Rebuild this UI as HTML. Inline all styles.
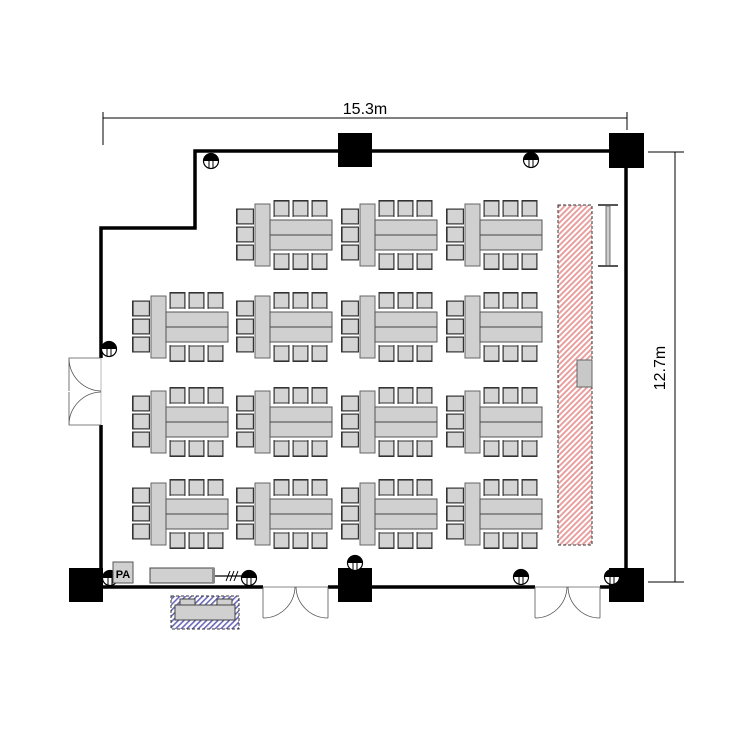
<!DOCTYPE html>
<html><head><meta charset="utf-8"><style>html,body{margin:0;padding:0;background:#fff}svg{display:block}</style></head>
<body>
<svg width="750" height="750" viewBox="0 0 750 750" xmlns="http://www.w3.org/2000/svg">
<defs>
<pattern id="red" width="4" height="4" patternUnits="userSpaceOnUse" patternTransform="rotate(45)"><rect width="4" height="4" fill="#fff"/><rect width="2" height="4" fill="#e8a0a0"/></pattern>
<pattern id="blue" width="4" height="4" patternUnits="userSpaceOnUse" patternTransform="rotate(45)"><rect width="4" height="4" fill="#fff"/><rect width="1.6" height="4" fill="#6a6ab8"/></pattern>
<g id="ct"><rect x="0.5" y="1" width="14" height="15" fill="#d4d4d4" stroke="#777" stroke-width="0.7"/><rect x="0" y="0" width="15" height="1.6" fill="#333"/><line x1="0" y1="0" x2="0" y2="17" stroke="#333" stroke-width="1"/><line x1="15" y1="0" x2="15" y2="17" stroke="#333" stroke-width="1"/><rect x="0" y="15.5" width="15" height="1" fill="#333"/></g>
<g id="cl"><rect x="1" y="0.5" width="16" height="14" fill="#d4d4d4" stroke="#777" stroke-width="0.7"/><rect x="0" y="0" width="1.6" height="15" fill="#333"/><line x1="0" y1="0" x2="18" y2="0" stroke="#333" stroke-width="1"/><line x1="0" y1="15" x2="18" y2="15" stroke="#333" stroke-width="1"/><rect x="17" y="0" width="1" height="15" fill="#333"/></g>
<g id="grp">
<use href="#cl" x="0" y="9"/><use href="#cl" x="0" y="27"/><use href="#cl" x="0" y="45"/>
<rect x="19" y="4" width="15" height="62" fill="#d0d0d0" stroke="#666"/>
<rect x="34" y="20" width="62" height="30" fill="#d0d0d0" stroke="#555"/>
<line x1="34" y1="35" x2="96" y2="35" stroke="#444"/>
<use href="#ct" x="38" y="0"/><use href="#ct" x="57" y="0"/><use href="#ct" x="76" y="0"/>
<use href="#ct" x="38" y="-70" transform="scale(1,-1)"/><use href="#ct" x="57" y="-70" transform="scale(1,-1)"/><use href="#ct" x="76" y="-70" transform="scale(1,-1)"/>
</g>
<g id="lt"><circle cx="0" cy="0" r="7.5" fill="#fff" stroke="#000" stroke-width="1.2"/><path d="M-7.5 0 A7.5 7.5 0 0 1 7.5 0 Z" fill="#000"/><line x1="-2" y1="-1" x2="-2" y2="7" stroke="#000"/><line x1="2" y1="-1" x2="2" y2="7" stroke="#000"/></g>
</defs>

<line x1="103" y1="118" x2="627" y2="118" stroke="#000" stroke-width="1"/>
<line x1="103" y1="112" x2="103" y2="145" stroke="#000"/>
<line x1="627" y1="112" x2="627" y2="130" stroke="#000"/>
<text x="365" y="114" font-family="Liberation Sans, sans-serif" font-size="16" text-anchor="middle">15.3m</text>
<line x1="675" y1="152" x2="675" y2="582" stroke="#000"/>
<line x1="648" y1="152" x2="684" y2="152" stroke="#000"/>
<line x1="648" y1="582" x2="684" y2="582" stroke="#000"/>
<text transform="translate(665,368) rotate(-90)" font-family="Liberation Sans, sans-serif" font-size="16" text-anchor="middle">12.7m</text>

<path d="M338 151 H195 V228 H101 V358" fill="none" stroke="#000" stroke-width="3.5"/>
<path d="M372 151 H610" fill="none" stroke="#000" stroke-width="3.5"/>
<path d="M101 425 V587 H263 M328 587 H535 M600 587 H626 V152" fill="none" stroke="#000" stroke-width="3.5"/>
<line x1="101" y1="358" x2="101" y2="425" stroke="#bbb" stroke-width="1"/>
<line x1="263" y1="587" x2="328" y2="587" stroke="#888" stroke-width="1"/>
<line x1="535" y1="587" x2="600" y2="587" stroke="#888" stroke-width="1"/>
<rect x="338" y="133" width="34" height="34" fill="#000"/>
<rect x="609" y="133" width="35" height="35" fill="#000"/>
<rect x="69" y="568" width="34" height="34" fill="#000"/>
<rect x="338" y="568" width="34" height="34" fill="#000"/>
<rect x="609" y="568" width="35" height="34" fill="#000"/>

<g fill="none" stroke="#555" stroke-width="0.8">
<path d="M101 358 H69 V391 M69 358 A33 33 0 0 0 101 391"/>
<path d="M101 425 H69 V392 M69 425 A33 33 0 0 1 101 392"/>
<path d="M263 587 V618 M263 618 A32 32 0 0 0 295 587 M328 587 V618 M328 618 A32 32 0 0 1 296 587"/>
<path d="M535 587 V618 M535 618 A32 32 0 0 0 567 587 M600 587 V618 M600 618 A32 32 0 0 1 568 587"/>
</g>

<use href="#grp" x="236" y="200"/><use href="#grp" x="341" y="200"/><use href="#grp" x="446" y="200"/>
<use href="#grp" x="132" y="292"/><use href="#grp" x="236" y="292"/><use href="#grp" x="341" y="292"/><use href="#grp" x="446" y="292"/>
<use href="#grp" x="132" y="387"/><use href="#grp" x="236" y="387"/><use href="#grp" x="341" y="387"/><use href="#grp" x="446" y="387"/>
<use href="#grp" x="132" y="479"/><use href="#grp" x="236" y="479"/><use href="#grp" x="341" y="479"/><use href="#grp" x="446" y="479"/>

<rect x="558" y="205" width="34" height="340" fill="url(#red)" stroke="#333" stroke-dasharray="3,2"/>
<rect x="577" y="360" width="15" height="27" fill="#c8c8c8" stroke="#666"/>
<rect x="606" y="206" width="4" height="60" fill="#ccc" stroke="#555" stroke-width="0.8"/>
<rect x="598" y="204" width="20" height="2" fill="#555"/>
<rect x="598" y="265" width="20" height="2" fill="#555"/>

<use href="#lt" x="211" y="161"/><use href="#lt" x="531" y="160"/><use href="#lt" x="109" y="349"/>
<use href="#lt" x="110" y="578"/><use href="#lt" x="249" y="578"/><use href="#lt" x="355" y="563"/>
<use href="#lt" x="521" y="577"/><use href="#lt" x="612" y="577"/>

<rect x="113" y="562" width="20" height="21" fill="#d0d0d0" stroke="#555"/>
<text x="123" y="578" font-family="Liberation Sans, sans-serif" font-size="11" font-weight="bold" text-anchor="middle">PA</text>
<rect x="150" y="568" width="64" height="15" fill="#d0d0d0" stroke="#444"/>
<rect x="212" y="568" width="3" height="15" fill="#888"/>
<line x1="215" y1="576" x2="243" y2="576" stroke="#000" stroke-width="1.2"/>
<path d="M226 581 L230 571 M230 581 L234 571 M234 581 L238 571" stroke="#000"/>
<rect x="171" y="596" width="68" height="33" fill="url(#blue)" stroke="#333" stroke-dasharray="3,2"/>
<rect x="175" y="605" width="60" height="15" fill="#d0d0d0" stroke="#444"/>
<rect x="180" y="599" width="15" height="6" fill="#d0d0d0" stroke="#444"/>
<rect x="217" y="599" width="15" height="6" fill="#d0d0d0" stroke="#444"/>
</svg>
</body></html>
